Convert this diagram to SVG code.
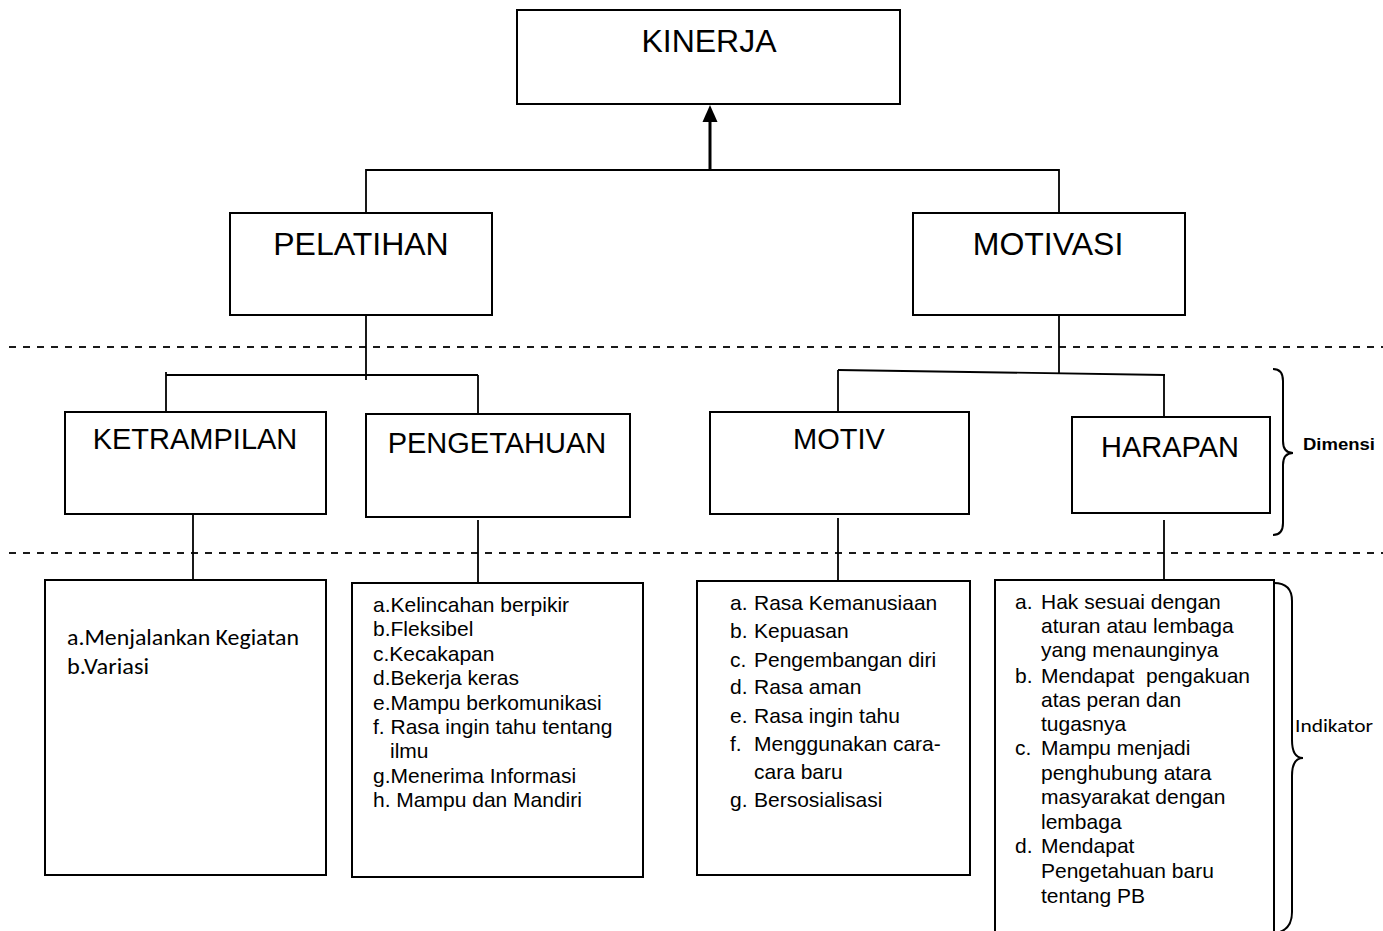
<svg xmlns="http://www.w3.org/2000/svg" width="1383" height="931" viewBox="0 0 1383 931">
<style>
.box{fill:#fff;stroke:#000;stroke-width:2}
.ln{fill:none;stroke:#000;stroke-width:1.8}
.dash{fill:none;stroke:#1a1a1a;stroke-width:2;stroke-dasharray:7 7}
.t1{font-family:"Liberation Sans",Arial,sans-serif;font-size:32px;text-anchor:middle;fill:#000}
.t2{font-family:"Liberation Sans",Arial,sans-serif;font-size:29px;text-anchor:middle;fill:#000}
.li{font-family:"Liberation Sans",Arial,sans-serif;font-size:21px;fill:#000}
.cal{font-family:Carlito,Lato,"Open Sans",sans-serif;fill:#000}
.brace{fill:none;stroke:#000;stroke-width:2}
</style>
<rect width="1383" height="931" fill="#fff"/>

<g id="guides">
<line class="dash" x1="9" y1="347" x2="1383" y2="347"/>
<line class="dash" x1="9" y1="553" x2="1383" y2="553"/>
</g>

<g id="connectors">
<line x1="710" y1="170" x2="710" y2="119" stroke="#000" stroke-width="3"/>
<polygon points="710,105 702.5,122 717.5,122" fill="#000"/>
<polyline class="ln" points="366,217 366,170 1059,170 1059,213"/>
<line class="ln" x1="366" y1="315" x2="366" y2="380"/>
<line class="ln" x1="166" y1="375" x2="478" y2="375"/>
<line class="ln" x1="166" y1="372" x2="166" y2="412"/>
<line class="ln" x1="478" y1="375" x2="478" y2="414"/>
<line class="ln" x1="193" y1="510" x2="193" y2="580"/>
<line class="ln" x1="478" y1="520" x2="478" y2="583"/>
<line class="ln" x1="1059" y1="315" x2="1059" y2="373"/>
<line class="ln" x1="838" y1="370" x2="1165" y2="375"/>
<line class="ln" x1="838" y1="370" x2="838" y2="418"/>
<line class="ln" x1="1164" y1="375" x2="1164" y2="420"/>
<line class="ln" x1="838" y1="518" x2="838" y2="581"/>
<line class="ln" x1="1164" y1="520" x2="1164" y2="580"/>
</g>

<g id="kinerja">
<rect class="box" x="517" y="10" width="383" height="94"/>
<text class="t1" x="709" y="52">KINERJA</text>
</g>

<g id="pelatihan">
<rect class="box" x="230" y="213" width="262" height="102"/>
<text class="t1" x="361" y="255">PELATIHAN</text>
</g>

<g id="motivasi">
<rect class="box" x="913" y="213" width="272" height="102"/>
<text class="t1" x="1048" y="255">MOTIVASI</text>
</g>

<g id="ketrampilan">
<rect class="box" x="65" y="412" width="261" height="102"/>
<text class="t2" x="195" y="449">KETRAMPILAN</text>
</g>

<g id="pengetahuan">
<rect class="box" x="366" y="414" width="264" height="103"/>
<text class="t2" x="497" y="453">PENGETAHUAN</text>
</g>

<g id="motiv">
<rect class="box" x="710" y="412" width="259" height="102"/>
<text class="t2" x="839" y="449">MOTIV</text>
</g>

<g id="harapan">
<rect class="box" x="1072" y="417" width="198" height="96"/>
<text class="t2" x="1170" y="457">HARAPAN</text>
</g>

<g id="ind-ketrampilan">
<rect class="box" x="45" y="580" width="281" height="295"/>
<text class="cal" font-size="23" x="67" y="645" textLength="232" lengthAdjust="spacingAndGlyphs">a.Menjalankan Kegiatan</text>
<text class="cal" font-size="23" x="67" y="674" textLength="82" lengthAdjust="spacingAndGlyphs">b.Variasi</text>
</g>

<g id="ind-pengetahuan">
<rect class="box" x="352" y="583" width="291" height="294"/>
<text class="li" x="373" y="612">a.Kelincahan berpikir</text>
<text class="li" x="373" y="636">b.Fleksibel</text>
<text class="li" x="373" y="661">c.Kecakapan</text>
<text class="li" x="373" y="685">d.Bekerja keras</text>
<text class="li" x="373" y="710">e.Mampu berkomunikasi</text>
<text class="li" x="373" y="734">f. Rasa ingin tahu tentang</text>
<text class="li" x="390" y="758">ilmu</text>
<text class="li" x="373" y="783">g.Menerima Informasi</text>
<text class="li" x="373" y="807">h. Mampu dan Mandiri</text>
</g>

<g id="ind-motiv">
<rect class="box" x="697" y="581" width="273" height="294"/>
<text class="li" x="730" y="610">a.</text><text class="li" x="754" y="610">Rasa Kemanusiaan</text>
<text class="li" x="730" y="638">b.</text><text class="li" x="754" y="638">Kepuasan</text>
<text class="li" x="730" y="667">c.</text><text class="li" x="754" y="667">Pengembangan diri</text>
<text class="li" x="730" y="694">d.</text><text class="li" x="754" y="694">Rasa aman</text>
<text class="li" x="730" y="723">e.</text><text class="li" x="754" y="723">Rasa ingin tahu</text>
<text class="li" x="730" y="751">f.</text><text class="li" x="754" y="751">Menggunakan cara-</text>
<text class="li" x="754" y="779">cara baru</text>
<text class="li" x="730" y="807">g.</text><text class="li" x="754" y="807">Bersosialisasi</text>
</g>

<g id="ind-harapan">
<path class="box" d="M995,940 L995,580 L1274,580 L1274,940"/>
<text class="li" x="1015" y="609">a.</text><text class="li" x="1041" y="609">Hak sesuai dengan</text>
<text class="li" x="1041" y="633">aturan atau lembaga</text>
<text class="li" x="1041" y="657">yang menaunginya</text>
<text class="li" x="1015" y="683">b.</text><text class="li" x="1041" y="683" xml:space="preserve">Mendapat  pengakuan</text>
<text class="li" x="1041" y="707">atas peran dan</text>
<text class="li" x="1041" y="731">tugasnya</text>
<text class="li" x="1015" y="755">c.</text><text class="li" x="1041" y="755">Mampu menjadi</text>
<text class="li" x="1041" y="780">penghubung atara</text>
<text class="li" x="1041" y="804">masyarakat dengan</text>
<text class="li" x="1041" y="829">lembaga</text>
<text class="li" x="1015" y="853">d.</text><text class="li" x="1041" y="853">Mendapat</text>
<text class="li" x="1041" y="878">Pengetahuan baru</text>
<text class="li" x="1041" y="903">tentang PB</text>
</g>

<g id="dimensi">
<path class="brace" d="M1273,369 Q1283,369 1283,381 L1283,441 Q1283,453 1293,453 Q1283,453 1283,465 L1283,523 Q1283,535 1273,535"/>
<text x="1303" y="450" font-family="Liberation Sans,Arial,sans-serif" font-weight="bold" font-size="17" textLength="72" lengthAdjust="spacingAndGlyphs">Dimensi</text>
</g>

<g id="indikator">
<path class="brace" d="M1274,583 Q1292,583 1292,601 L1292,740 Q1292,758 1303,758 Q1292,758 1292,776 L1292,912 Q1292,930 1276,933"/>
<text class="cal" x="1295" y="732" font-size="19" textLength="78" lengthAdjust="spacingAndGlyphs">Indikator</text>
</g>
</svg>
